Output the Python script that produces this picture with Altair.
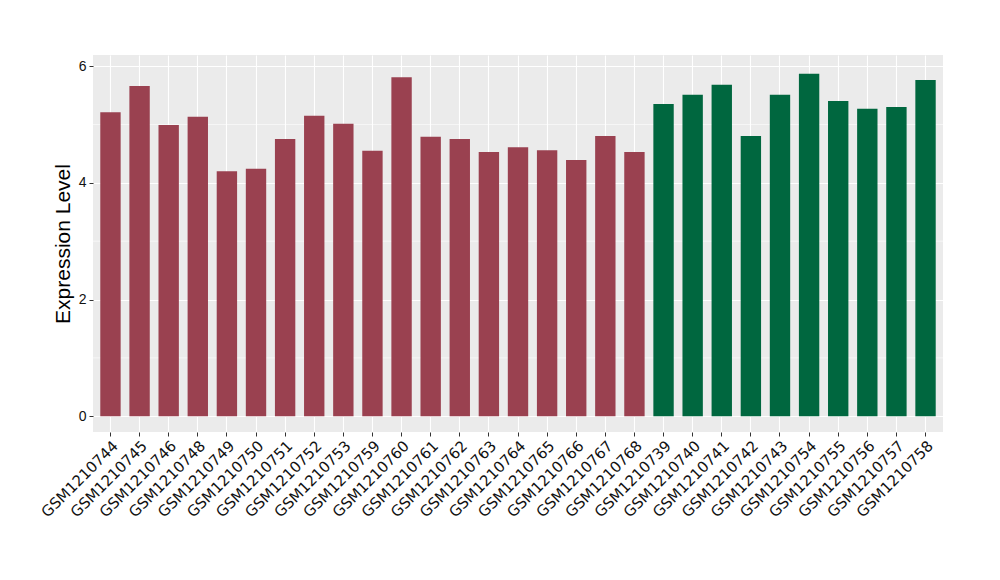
import altair as alt
import pandas as pd

samples = ["GSM1210744", "GSM1210745", "GSM1210746", "GSM1210748", "GSM1210749",
           "GSM1210750", "GSM1210751", "GSM1210752", "GSM1210753", "GSM1210759",
           "GSM1210760", "GSM1210761", "GSM1210762", "GSM1210763", "GSM1210764",
           "GSM1210765", "GSM1210766", "GSM1210767", "GSM1210768", "GSM1210739",
           "GSM1210740", "GSM1210741", "GSM1210742", "GSM1210743", "GSM1210754",
           "GSM1210755", "GSM1210756", "GSM1210757", "GSM1210758"]
values = [5.21, 5.66, 4.99, 5.13, 4.20, 4.24, 4.75, 5.15, 5.01, 4.55,
          5.81, 4.79, 4.75, 4.53, 4.61, 4.56, 4.39, 4.80, 4.53,
          5.35, 5.51, 5.68, 4.80, 5.51, 5.87, 5.40, 5.27, 5.30, 5.76]
groups = ["A"] * 19 + ["B"] * 10
group_colors = ["#9A4150", "#00673F"]
major_ticks = [0, 2, 4, 6]
minor_grid = [1, 3, 5]

df = pd.DataFrame({"sample": samples, "value": values, "group": groups})
minor_df = pd.DataFrame({"value": minor_grid})

yscale = alt.Scale(domain=[-0.27, 6.19], nice=False, zero=False)
yaxis = alt.Axis(title="Expression Level", values=major_ticks,
                 titleFont="Liberation Sans", titleFontSize=21,
                 titleFontWeight="normal", titleColor="black",
                 titlePadding=5,
                 labelFont="Liberation Sans", labelFontSize=14,
                 labelColor="#111111", labelPadding=3,
                 tickColor="#333333", tickSize=4, domain=False,
                 grid=True, gridColor="white", gridWidth=1.1)

minor = alt.Chart(minor_df).mark_rule(color="white", strokeWidth=0.6).encode(
    y=alt.Y("value:Q", scale=yscale, axis=yaxis)
)

bars = alt.Chart(df).mark_bar().encode(
    x=alt.X("sample:N", sort=samples,
            scale=alt.Scale(paddingInner=0.3, paddingOuter=0.25),
            axis=alt.Axis(title=None, labelAngle=-45, labelAlign="right",
                          labelBaseline="top", labelFont="DejaVu Sans",
                          labelFontSize=15, labelColor="#111111",
                          labelPadding=2, tickColor="#333333", tickSize=4,
                          domain=False, grid=True, gridColor="white",
                          gridWidth=1.1, bandPosition=0.5, labelOverlap=False)),
    y=alt.Y("value:Q", scale=yscale, axis=yaxis),
    color=alt.Color("group:N", scale=alt.Scale(domain=["A", "B"], range=group_colors),
                    legend=None),
)

chart = alt.layer(minor, bars).properties(
    width=850, height=377,
    autosize=alt.AutoSizeParams(type="none"),
    padding={"left": 85, "top": 47, "right": 40, "bottom": 130},
).configure_view(fill="#EBEBEB", stroke=None)

chart.save("out.html", embed_options={"renderer": "svg", "actions": False})
